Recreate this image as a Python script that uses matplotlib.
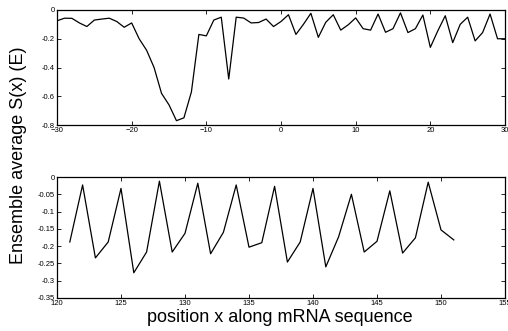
import matplotlib
matplotlib.use('Agg')
import matplotlib.pyplot as plt
import numpy as np

plt.rcParams['font.family'] = ['Liberation Sans', 'DejaVu Sans']

# upstream / coding start region
x_top = np.arange(-30, 31)
s_top = [-0.075, -0.057, -0.058, -0.09, -0.115, -0.07, -0.063, -0.057, -0.08, -0.12,
         -0.09, -0.2, -0.28, -0.4, -0.58, -0.66, -0.77, -0.75, -0.57, -0.17,
         -0.18, -0.07, -0.05, -0.48, -0.05, -0.056, -0.09, -0.087, -0.063, -0.115,
         -0.08, -0.033, -0.17, -0.1, -0.023, -0.19, -0.085, -0.033, -0.14, -0.103,
         -0.055, -0.13, -0.14, -0.028, -0.155, -0.13, -0.02, -0.157, -0.13, -0.035,
         -0.26, -0.145, -0.04, -0.227, -0.1, -0.05, -0.215, -0.157, -0.028, -0.2,
         -0.2]

# downstream region
x_bot = np.arange(121, 152)
s_bot = [-0.188, -0.023, -0.234, -0.188, -0.033, -0.277, -0.217, -0.012, -0.217, -0.163,
         -0.018, -0.222, -0.16, -0.023, -0.203, -0.19, -0.027, -0.246, -0.188, -0.033,
         -0.26, -0.173, -0.05, -0.217, -0.186, -0.04, -0.22, -0.176, -0.015, -0.153,
         -0.182]

top_xticks = [-30, -20, -10, 0, 10, 20, 30]
top_yticks = [0, -0.2, -0.4, -0.6, -0.8]
top_ylabels = ['0', '-0.2', '-0.4', '-0.6', '-0.8']
bot_xticks = [120, 125, 130, 135, 140, 145, 150, 155]
bot_yticks = [0, -0.05, -0.1, -0.15, -0.2, -0.25, -0.3, -0.35]
bot_ylabels = ['0', '-0.05', '-0.1', '-0.15', '-0.2', '-0.25', '-0.3', '-0.35']

W, H = 508, 331
fig = plt.figure(figsize=(W / 100, H / 100), dpi=100)
ax1 = fig.add_axes([57 / W, 1 - 125 / H, 448 / W, 115 / H])
ax2 = fig.add_axes([57 / W, 1 - 298 / H, 448 / W, 121 / H])

ax1.plot(x_top, s_top, color='black', lw=0.9)
ax1.set_xlim(-30, 30)
ax1.set_ylim(-0.8, 0)
ax1.set_xticks(top_xticks)
ax1.set_yticks(top_yticks)
ax1.set_yticklabels(top_ylabels)

ax2.plot(x_bot, s_bot, color='black', lw=0.9)
ax2.set_xlim(120, 155)
ax2.set_ylim(-0.35, 0)
ax2.set_xticks(bot_xticks)
ax2.set_yticks(bot_yticks)
ax2.set_yticklabels(bot_ylabels)

for ax in (ax1, ax2):
    ax.tick_params(direction='in', length=3, width=0.6, labelsize=5.5, pad=1.5,
                   top=True, right=True)
    for sp in ax.spines.values():
        sp.set_linewidth(0.9)

fig.text(19 / W, 1 - 155 / H, 'Ensemble average S(x) (E)', rotation=90,
         ha='center', va='center', fontsize=13)
fig.text(280 / W, 1 - 318 / H, 'position x along mRNA sequence',
         ha='center', va='center', fontsize=13)

fig.savefig('out.png', dpi=100)
